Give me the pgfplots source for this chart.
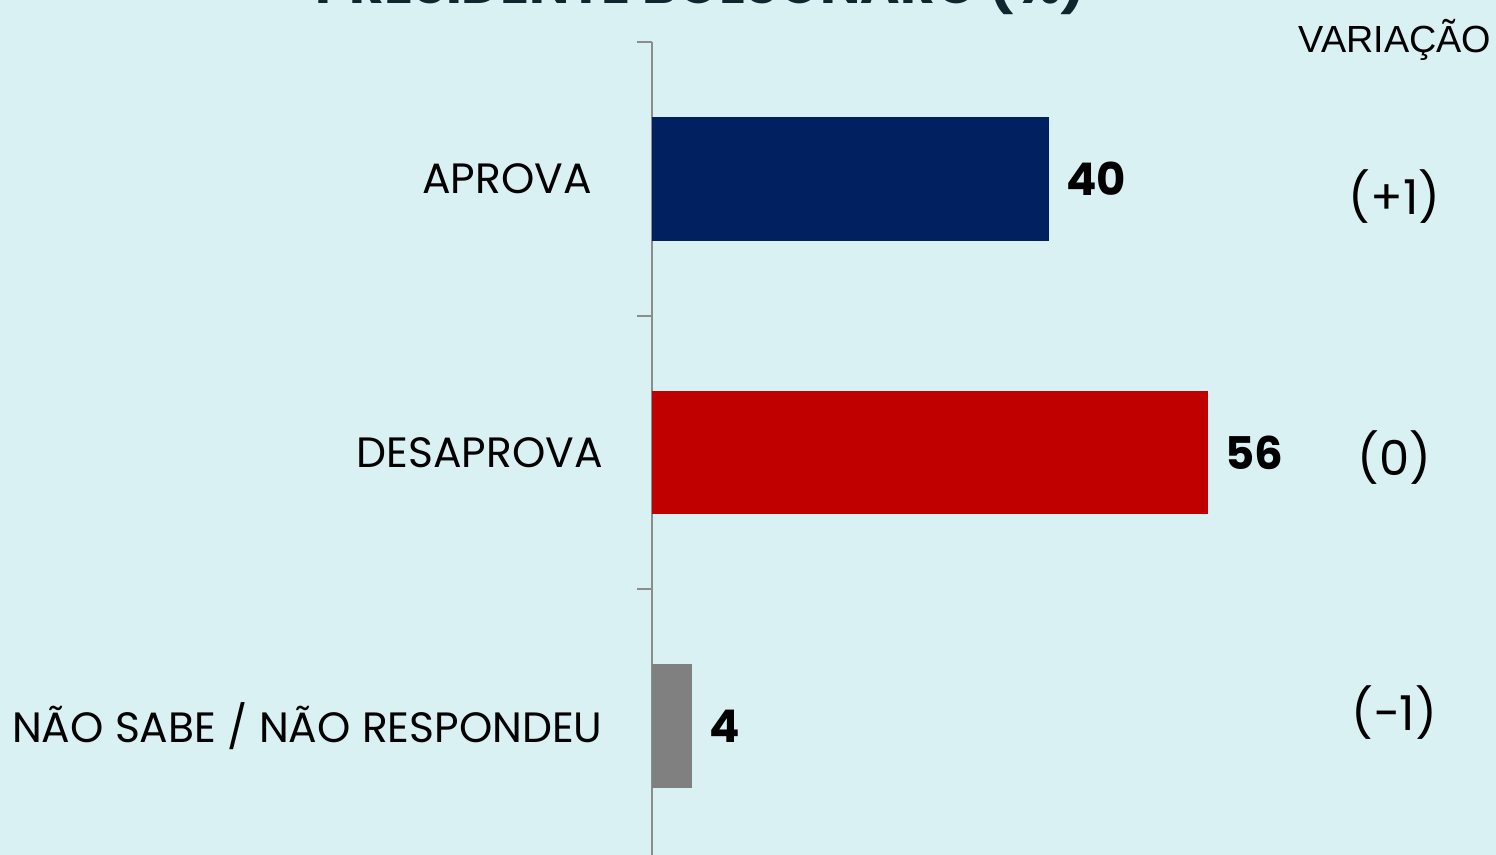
\documentclass[border=0pt]{standalone}
\usepackage{fontspec}
\setmainfont{Poppins}
\newfontfamily\arialf{Liberation Sans}
\usepackage{pgfplots}
\pgfplotsset{compat=1.18}
\definecolor{bgc}{RGB}{218,241,244}
\definecolor{navyb}{RGB}{0,32,96}
\definecolor{redb}{RGB}{192,0,0}
\definecolor{grayb}{RGB}{128,128,128}
\definecolor{axisgray}{RGB}{140,140,140}
\definecolor{titlec}{RGB}{15,38,46}
\begin{document}
\begin{tikzpicture}[x=0.5pt,y=0.5pt]
\path[use as bounding box] (0,0) rectangle (1496,855);
\fill[bgc] (0,0) rectangle (1496,855);
\clip (0,0) rectangle (1496,855);
\node[anchor=base, text=titlec, font=\fontsize{26.8}{30}\selectfont\bfseries, inner sep=0] at (701,851) {PRESIDENTE BOLSONARO (\%)};
\node[anchor=center, font=\arialf\fontsize{18.9}{22}\selectfont, inner sep=0] at (1395,815) {VARIAÇÃO};
\begin{axis}[
  at={(326pt,-4pt)}, anchor=south west,
  scale only axis, width=397pt, height=410.5pt,
  xmin=0, xmax=80, ymin=-0.5, ymax=2.5,
  y dir=reverse,
  hide x axis,
  axis y line=left,
  y axis line style={-, draw=axisgray, line width=1pt},
  ytick={0,1,2},
  yticklabels={APROVA\kern5.5pt\null,DESAPROVA,NÃO SABE / NÃO RESPONDEU},
  major tick length=0pt,
  yticklabel style={anchor=east, inner sep=0pt, xshift=-24.5pt, font=\fontsize{21.2}{25}\selectfont},
  extra y ticks={-0.5,0.5,1.5,2.5},
  extra y tick labels={},
  extra y tick style={major tick length=7.5pt, tick align=outside, tick style={draw=axisgray, line width=1pt}},
  xbar, bar shift=0pt, bar width=0.453,
  /pgf/number format/assume math mode=true,
  nodes near coords,
  nodes near coords style={anchor=west, inner sep=0pt, xshift=8.5pt, font=\fontsize{22.5}{26}\selectfont\bfseries},
  clip=false,
]
\addplot[fill=navyb, draw=none] coordinates {(40,0)};
\addplot[fill=redb, draw=none] coordinates {(56,1)};
\addplot[fill=grayb, draw=none] coordinates {(4,2)};
\node[font=\fontsize{24}{28}\selectfont, inner sep=0] at (axis cs:74.8,0.066) {(+1)};
\node[font=\fontsize{24}{28}\selectfont, inner sep=0] at (axis cs:74.8,1.02) {(0)};
\node[font=\fontsize{24}{28}\selectfont, inner sep=0] at (axis cs:74.8,1.95) {(−1)};
\end{axis}
\end{tikzpicture}
\end{document}
